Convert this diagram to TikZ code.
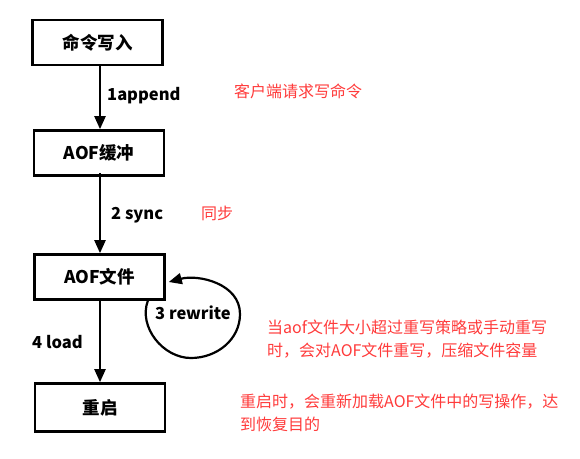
\documentclass[tikz,border=0pt]{standalone}
\usepackage{fontspec}
\setmainfont{Noto Sans CJK SC}
\usetikzlibrary{arrows.meta}
\definecolor{note}{HTML}{FF3B3B}
\begin{document}
\begin{tikzpicture}[x=1pt,y=-1pt,
  box/.style={draw,line width=2.6pt,minimum width=130pt,minimum height=45pt,inner sep=0pt,font=\fontsize{17.5}{20}\selectfont\bfseries},
  flow/.style={line width=2.2pt,-{Triangle[length=13pt,width=11pt]}},
  lbl/.style={font=\fontsize{16.5}{18}\selectfont\bfseries,inner sep=0pt},
  rednote/.style={text=note,font=\fontsize{16}{23}\selectfont,inner sep=0pt,anchor=north west,align=left}]
\useasboundingbox (0,0) rectangle (580,458);
\node[box] (b1) at (97.5,42.5) {命令写入};
\node[box] (b2) at (99,153) {AOF缓冲};
\node[box] (b3) at (99.5,277) {AOF文件};
\node[box,minimum height=48pt] (b4) at (100,407.5) {重启};
\draw[flow] (b1.south -| 100,0) -- (b2.north -| 100,0);
\draw[flow] ([yshift=4pt]b2.south -| 100,0) -- (b3.north -| 100,0);
\draw[flow] (b3.south -| 100,0) -- (b4.north -| 100,0);
\node[lbl,anchor=west] (l1) at (107,96) {1append};
\node[lbl,anchor=west] (l2) at (111,215) {2 sync};
\node[lbl,anchor=west] (l4) at (32,342) {4 load};
\node[lbl,anchor=west] (l3) at (155,313) {3 rewrite};
\coordinate (ls) at ([xshift=-18pt]b3.south east);
\coordinate (le) at ([xshift=3pt,yshift=-5pt]b3.east);
\draw[line width=2.2pt,-{Triangle[length=13pt,width=11pt]}] (ls) to[out=250,in=180] (191,358) to[out=0,in=270] (240,314) to[out=90,in=15] (le);
\node[rednote,anchor=west] (n1) at (234,91) {客户端请求写命令};
\node[rednote,anchor=west] (n2) at (201,213) {同步};
\node[rednote] (n3) at (267,320) {当aof文件大小超过重写策略或手动重写\\时，会对AOF文件重写，压缩文件容量};
\node[rednote] (n4) at (240,394) {重启时，会重新加载AOF文件中的写操作，达\\到恢复目的};
\end{tikzpicture}
\end{document}
